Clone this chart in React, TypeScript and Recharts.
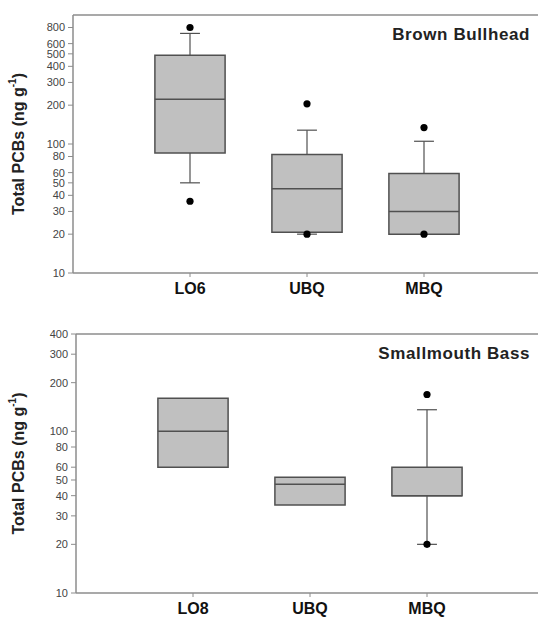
import React from 'react';
import {
  ComposedChart,
  XAxis,
  YAxis,
  Scatter,
  ReferenceArea,
  ReferenceLine,
} from 'recharts';

// ---- Brown Bullhead (top panel) ----
const topCategories = ['LO6', 'UBQ', 'MBQ'];
const topQ1 = [85, 20.7, 20];
const topMedian = [222, 45, 30];
const topQ3 = [488, 83, 59];
const topWhiskerLow = [50, 20, null];
const topWhiskerHigh = [720, 128, 105];
const topOutliers = [[800, 36], [205, 20], [134, 20]];
const topTicks = [10, 20, 30, 40, 50, 60, 80, 100, 200, 300, 400, 500, 600, 800];
const topDomain = [10, 1000];

// ---- Smallmouth Bass (bottom panel) ----
const bottomCategories = ['LO8', 'UBQ', 'MBQ'];
const bottomQ1 = [60, 35, 40];
const bottomMedian = [100, 47, 40];
const bottomQ3 = [160, 52, 60];
const bottomWhiskerLow = [null, null, 20];
const bottomWhiskerHigh = [null, null, 136];
const bottomOutliers = [[], [], [169, 20]];
const bottomTicks = [10, 20, 30, 40, 50, 60, 80, 100, 200, 300, 400];
const bottomDomain = [10, 400];

const FONT = '"Liberation Sans", Arial, Helvetica, sans-serif';
const AXIS_COLOR = '#8c8c8c';
const BOX_STROKE = '#505050';
const BOX_FILL = '#c0c0c0';
const SPACING = 117;
const HALF_BOX = 0.3;
const HALF_CAP = 0.085;
const PAGE_W = 538;
const PAGE_H = 618;

type PanelProps = {
  categories: string[];
  q1: number[];
  median: number[];
  q3: number[];
  whiskerLow: (number | null)[];
  whiskerHigh: (number | null)[];
  outliers: number[][];
  ticks: number[];
  domain: number[];
  title: string;
  plotLeft: number;
  plotTop: number;
  plotBottom: number;
  height: number;
};

const YLabel = (props: any) => {
  const vb = props.viewBox || {};
  const cy = (vb.y || 0) + (vb.height || 0) / 2;
  const cx = 18;
  return (
    <text
      x={cx}
      y={cy}
      transform={`rotate(-90, ${cx}, ${cy})`}
      textAnchor="middle"
      dominantBaseline="central"
      fontFamily={FONT}
      fontWeight="bold"
      fontSize={16}
      fill="#222"
    >
      Total PCBs (ng g
      <tspan dy={-6} fontSize={10}>-1</tspan>
      <tspan dy={6}>)</tspan>
    </text>
  );
};

const Panel = (p: PanelProps) => {
  const yAxisWidth = 60;
  const xAxisHeight = 25;
  const xMax = (PAGE_W - p.plotLeft) / SPACING;
  const outlierData = p.outliers.flatMap((vals, i) =>
    vals.map((v) => ({ x: i + 1, y: v }))
  );
  return (
    <ComposedChart
      width={PAGE_W}
      height={p.height}
      margin={{
        top: p.plotTop,
        right: 0,
        left: p.plotLeft - yAxisWidth,
        bottom: p.height - p.plotBottom - xAxisHeight,
      }}
    >
      <XAxis
        type="number"
        dataKey="x"
        domain={[0, xMax]}
        ticks={[1, 2, 3]}
        allowDataOverflow
        height={xAxisHeight}
        tickFormatter={(v: number) => p.categories[v - 1] ?? ''}
        axisLine={{ stroke: AXIS_COLOR, strokeWidth: 1.5 }}
        tickLine={{ stroke: AXIS_COLOR }}
        tickSize={4}
        tickMargin={6}
        tick={{ fontFamily: FONT, fontWeight: 'bold', fontSize: 16, fill: '#111' }}
        interval={0}
      />
      <YAxis
        type="number"
        dataKey="y"
        scale="log"
        domain={p.domain}
        ticks={p.ticks}
        allowDataOverflow
        interval={0}
        width={yAxisWidth}
        axisLine={{ stroke: AXIS_COLOR, strokeWidth: 1.5 }}
        tickLine={{ stroke: AXIS_COLOR }}
        tickSize={5}
        tickMargin={3}
        tick={{ fontFamily: FONT, fontSize: 11, fill: '#444' }}
        label={<YLabel />}
      />
      <ReferenceLine
        y={p.domain[1]}
        stroke={AXIS_COLOR}
        strokeWidth={1.5}
        ifOverflow="visible"
      />
      {p.categories.map((c, i) => {
        const x = i + 1;
        const wh = p.whiskerHigh[i];
        const wl = p.whiskerLow[i];
        return (
          <React.Fragment key={c}>
            {wh != null && (
              <ReferenceLine
                segment={[{ x, y: p.q3[i] }, { x, y: wh }]}
                stroke={BOX_STROKE}
                strokeWidth={1.2}
                ifOverflow="visible"
              />
            )}
            {wh != null && (
              <ReferenceLine
                segment={[{ x: x - HALF_CAP, y: wh }, { x: x + HALF_CAP, y: wh }]}
                stroke={BOX_STROKE}
                strokeWidth={1.2}
                ifOverflow="visible"
              />
            )}
            {wl != null && (
              <ReferenceLine
                segment={[{ x, y: p.q1[i] }, { x, y: wl }]}
                stroke={BOX_STROKE}
                strokeWidth={1.2}
                ifOverflow="visible"
              />
            )}
            {wl != null && (
              <ReferenceLine
                segment={[{ x: x - HALF_CAP, y: wl }, { x: x + HALF_CAP, y: wl }]}
                stroke={BOX_STROKE}
                strokeWidth={1.2}
                ifOverflow="visible"
              />
            )}
          </React.Fragment>
        );
      })}
      <Scatter
        data={outlierData}
        dataKey="y"
        isAnimationActive={false}
        shape={(sp: any) => <circle cx={sp.cx} cy={sp.cy} r={3.6} fill="#000" />}
      />
      {p.categories.map((c, i) => (
        <ReferenceArea
          key={`box-${c}`}
          x1={i + 1 - HALF_BOX}
          x2={i + 1 + HALF_BOX}
          y1={p.q1[i]}
          y2={p.q3[i]}
          fill={BOX_FILL}
          fillOpacity={1}
          stroke={BOX_STROKE}
          strokeWidth={1.5}
          ifOverflow="visible"
        />
      ))}
      {p.categories.map((c, i) => (
        <ReferenceLine
          key={`med-${c}`}
          segment={[
            { x: i + 1 - HALF_BOX, y: p.median[i] },
            { x: i + 1 + HALF_BOX, y: p.median[i] },
          ]}
          stroke={BOX_STROKE}
          strokeWidth={1.5}
          ifOverflow="visible"
        />
      ))}
      <text
        x={530}
        y={p.plotTop + 25}
        textAnchor="end"
        fontFamily={FONT}
        fontWeight="bold"
        fontSize={17}
        letterSpacing={0.6}
        fill="#222"
      >
        {p.title}
      </text>
    </ComposedChart>
  );
};

export default function App() {
  return (
    <div
      style={{
        position: 'relative',
        width: PAGE_W,
        height: PAGE_H,
        overflow: 'hidden',
        background: '#fff',
      }}
    >
      <style>{'html,body{margin:0;padding:0;overflow:hidden;background:#fff;}'}</style>
      <div style={{ position: 'absolute', left: 0, top: 0 }}>
        <Panel
          categories={topCategories}
          q1={topQ1}
          median={topMedian}
          q3={topQ3}
          whiskerLow={topWhiskerLow}
          whiskerHigh={topWhiskerHigh}
          outliers={topOutliers}
          ticks={topTicks}
          domain={topDomain}
          title="Brown Bullhead"
          plotLeft={73}
          plotTop={15}
          plotBottom={273}
          height={300}
        />
      </div>
      <div style={{ position: 'absolute', left: 0, top: 320 }}>
        <Panel
          categories={bottomCategories}
          q1={bottomQ1}
          median={bottomMedian}
          q3={bottomQ3}
          whiskerLow={bottomWhiskerLow}
          whiskerHigh={bottomWhiskerHigh}
          outliers={bottomOutliers}
          ticks={bottomTicks}
          domain={bottomDomain}
          title="Smallmouth Bass"
          plotLeft={76}
          plotTop={14}
          plotBottom={273}
          height={298}
        />
      </div>
    </div>
  );
}
